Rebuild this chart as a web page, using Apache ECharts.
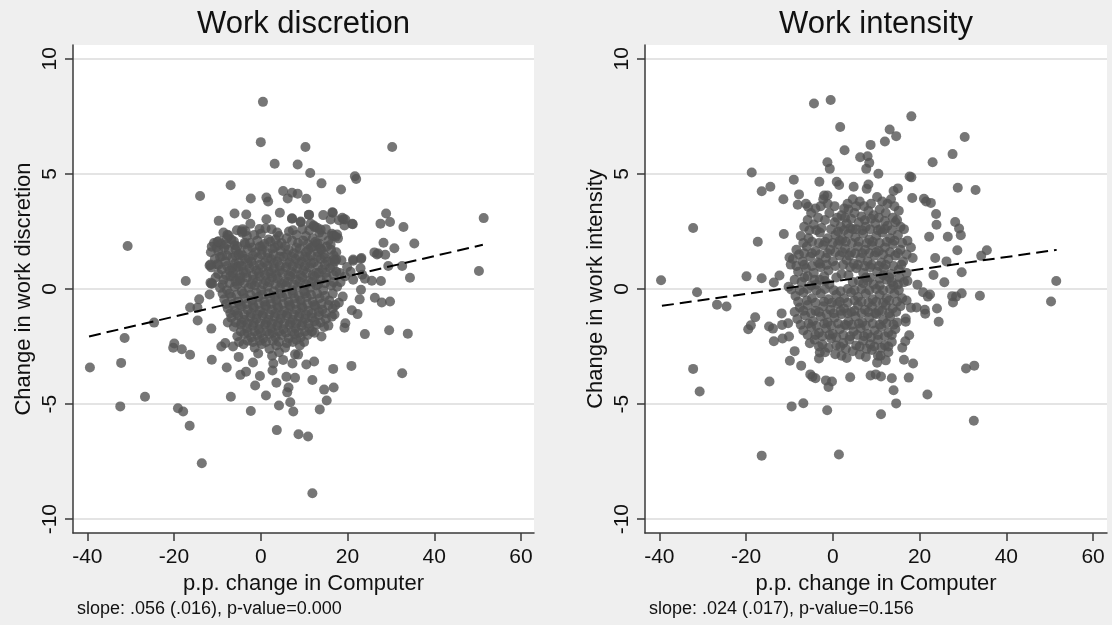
<!DOCTYPE html>
<html>
<head>
<meta charset="utf-8">
<script src="https://cdn.jsdelivr.net/npm/echarts@6/dist/echarts.min.js"></script>
<style>
html,body{margin:0;padding:0;background:#efefef;}
#chart{width:1112px;height:625px;}
</style>
</head>
<body>
<div id="chart"></div>
<script>
// ---------- DATA ----------
const panelTitles = ['Work discretion', 'Work intensity'];
const yAxisTitles = ['Change in work discretion', 'Change in work intensity'];
const xAxisTitle = 'p.p. change in Computer';
const slopeNotes = ['slope: .056 (.016), p-value=0.000', 'slope: .024 (.017), p-value=0.156'];
const xTicks = [-40, -20, 0, 20, 40, 60];
const yTicks = [-10, -5, 0, 5, 10];

// fitted (dashed) lines: endpoints
const fitDiscretion = [[-39.6, -2.06], [51.2, 1.92]];
const fitIntensity = [[-39.4, -0.73], [51.6, 1.70]];

// Work discretion: scattered points
const discretionOuter = [
[0.5,8.13],[0,6.38],[10.3,6.17],[30.3,6.17],[3.2,5.44],[8.5,5.41],[11.4,5.04],[21.7,4.9],[22,4.78],[14,4.59],
[-6.95,4.51],[-14,4.04],[18.5,4.32],[5.15,4.26],[7.2,4.18],[8.5,4.14],[10.5,3.92],[-2.3,3.93],[1.3,3.97],[1.7,3.8],
[51.4,3.08],[28.9,3.28],[29.8,2.91],[27.6,2.84],[32.9,2.69],[35.4,1.98],[28.3,2.01],[30.8,1.77],[34.4,0.49],[50.3,0.78],
[32.6,1.0],[29.4,1.0],[28.7,1.49],[26.2,1.59],[27.1,1.54],[-30.7,1.87],[-17.3,0.35],[-24.6,-1.46],[-31.4,-2.13],[-39.4,-3.41],
[-32.2,-3.21],[-32.4,-5.1],[-26.7,-4.68],[-19.95,-2.37],[-20.2,-2.55],[-18.2,-2.62],[-16.3,-2.86],[-19.1,-5.18],[-17.9,-5.32],[-16.4,-5.94],
[-13.6,-7.57],[11.9,-8.87],[3.7,-6.13],[8.7,-6.31],[10.9,-6.41],[-2.3,-5.3],[-6.9,-4.68],[1.2,-4.63],[-1.3,-4.19],[-0.2,-3.78],
[4.2,-5.06],[6.8,-4.92],[7.5,-5.32],[13.6,-5.23],[15.2,-4.84],[14.6,-4.37],[16.8,-4.28],[16.7,-3.47],[20.9,-3.34],[32.6,-3.66],
[29.6,-1.79],[33.9,-1.94],[24,-1.96],[19.5,-1.49],[11.9,-3.95],[12.3,-3.15],[10.5,-3.28],[5.9,-3.81],[7.9,-3.86],[3.6,-4.07],
[6.1,-4.49],[6.4,-4.28],[-7.85,-3.41],[-4.7,-3.73],[-3.4,-3.59],[-11.3,-3.07],[-5.1,-2.95],[-1.8,-3.19],[2.9,-3.24],[5.15,-3.08],
[2.7,-3.54],[7.9,-2.84],[7.3,-3.24],[-9.1,-2.5],[-11.4,-1.72],[-14.55,-1.37],[-14.6,-0.81],[-16.3,-0.8],[-14.2,-0.45],[-11.8,-0.24],
[-11.2,0.24],[-9.7,2.96],[-6.05,3.28],[-3.35,3.24],[-2.4,2.83],[-4.4,2.51],[-3.7,2.01],[-7.7,2.36],[-11.3,1.84],[-10,2.05],
[-11.8,1.02],[-10.1,1.07],[1.3,3.03],[4.4,3.31],[7.2,3.07],[9.2,2.93],[11.1,3.22],[14.4,3.21],[16.6,3.31],[19.1,3.03],
[21.2,2.81],[19.3,2.76],[17.3,2.27],[16.4,2.32],[17.4,1.28],[21.3,1.23],[23.1,1.3],[20.7,0.75],[23.4,0.62],[21.3,0.4],
[25.6,0.36],[27.7,0.35],[24,0.45],[23.1,-0.03],[26.3,-0.38],[27.9,-0.59],[29.8,-0.54],[22.8,-0.45],[18.9,-0.33],[21,-0.92],
[22.3,-1.09],[19.3,-1.68],[15.6,-1.59],[14,-2.06],[17,-1.11],[-11.4,0.23],[-11.4,0.94],
[-0.3,2.61],[1.1,2.64],[-4.3,2.44],[-3.5,2.51],[-7.4,2.32],[-9.7,2.07],[-6.2,2.07],[-3.7,1.93],[-8.1,1.93],[-5.8,1.71],
[1.8,2.15],[3.4,2.15],[0.3,1.86],[-8.9,1.42],[-5.1,1.5],[-2.8,1.35],[-11.6,1.06],[-6.6,0.92],[-5.1,0.99],
[-11.6,0.27],[-7.0,0.55],[-5.8,0.34],[-4.7,0.48],[6.2,3.93],[7.2,3.05],[9.2,2.9],[11.1,3.23],[16.5,3.33],[18.8,3.09],
[19.5,3.02],[21.1,2.83],[16.1,3.02],[18.0,2.99],[11.5,2.84],[12.2,2.76],[13.0,2.66],[13.8,2.58],[16.8,2.32],[17.6,2.37],
[13.0,1.97],[13.8,1.75],[16.1,1.93],[16.8,1.28],[21.3,1.28],[23.2,1.35],[26.8,1.5],[17.1,1.2],[19.9,0.96],[23.0,0.9]
];
// Work discretion: dense central cluster
const discretionCore = [
[-8.6,2.45],[-5.5,2.55],[-4.2,2.6],[-1.5,2.35],[2.5,2.6],[3.8,2.45],[6.5,2.5],[8.2,2.35],[9.6,2.6],[11.2,2.55],[12.4,2.7],[13.5,2.45],[15.0,2.6],[14.2,2.3],
[-10.8,2.0],[-9.2,1.95],[-6.8,2.15],[-6.0,1.9],[-2.5,2.0],[-0.8,2.1],[0.8,1.95],[2.2,2.05],[4.8,2.0],[6.0,2.2],[7.2,2.1],[8.6,2.0],[9.8,2.1],[10.8,1.95],[12.6,2.05],[13.6,1.95],[15.6,2.1],[17.8,2.2],
[-11.5,1.6],[-9.8,1.65],[-7.4,1.7],[-4.6,1.55],[-3.0,1.75],[-1.2,1.6],[0.3,1.7],[1.6,1.55],[3.2,1.8],[4.6,1.65],[6.4,1.7],[7.6,1.55],[9.0,1.75],[10.4,1.6],[11.6,1.8],[13.2,1.6],[14.6,1.5],[16.2,1.7],
[-10.6,1.3],[-8.2,1.2],[-6.6,1.35],[-5.0,1.15],[-3.6,1.3],[-2.2,1.2],[-0.6,1.35],[0.9,1.15],[2.4,1.3],[3.8,1.2],[5.2,1.4],[6.6,1.15],[8.0,1.3],[9.4,1.2],[10.8,1.35],[12.2,1.15],[13.8,1.3],[15.4,1.2],[18.6,1.25],
[-9.0,0.85],[-7.2,0.8],[-5.6,0.95],[-4.0,0.75],[-2.6,0.9],[-1.0,0.8],[0.4,0.95],[1.8,0.75],[3.0,0.9],[4.4,0.8],[5.8,0.95],[7.0,0.75],[8.4,0.9],[9.8,0.8],[11.2,0.95],[12.8,0.7],[14.2,0.85],[16.0,0.9],[17.4,0.75],
[-10.4,0.5],[-8.6,0.4],[-6.4,0.55],[-4.8,0.35],[-3.2,0.5],[-1.8,0.4],[-0.2,0.55],[1.2,0.35],[2.6,0.5],[3.9,0.45],[5.4,0.3],[6.8,0.55],[8.2,0.4],[9.6,0.5],[11.0,0.35],[12.4,0.55],[13.8,0.4],[15.2,0.5],[16.8,0.3],[19.4,0.55],
[-9.4,0.05],[-7.8,-0.05],[-6.0,0.1],[-4.4,-0.1],[-2.8,0.05],[-1.4,0.15],[0.1,-0.05],[1.6,0.1],[3.0,-0.1],[4.4,0.05],[5.8,0.15],[7.2,-0.05],[8.6,0.1],[10.0,-0.1],[11.4,0.05],[12.8,0.15],[14.4,-0.05],[17.6,0.1],
[-8.4,-0.45],[-6.8,-0.35],[-5.2,-0.55],[-3.6,-0.4],[-2.0,-0.5],[-0.6,-0.35],[0.8,-0.55],[2.2,-0.4],[3.6,-0.5],[5.0,-0.35],[6.4,-0.55],[7.8,-0.4],[9.2,-0.5],[10.6,-0.35],[12.0,-0.55],[13.6,-0.4],[15.8,-0.5],[18.0,-0.6],
[-7.6,-0.85],[-6.0,-0.95],[-4.4,-0.75],[-3.0,-0.9],[-1.6,-0.8],[-0.2,-0.95],[1.2,-0.75],[2.6,-0.9],[4.0,-0.8],[5.4,-0.95],[6.8,-0.75],[8.2,-0.9],[9.6,-0.8],[11.0,-0.95],[12.6,-0.75],[14.2,-0.9],[16.6,-0.85],
[-6.8,-1.25],[-5.2,-1.15],[-3.8,-1.35],[-2.4,-1.2],[-1.0,-1.3],[0.4,-1.15],[1.8,-1.35],[3.2,-1.2],[4.6,-1.3],[6.0,-1.15],[7.4,-1.35],[8.8,-1.2],[10.2,-1.3],[11.8,-1.25],[13.4,-1.15],[15.0,-1.3],
[-6.2,-1.65],[-4.6,-1.55],[-3.2,-1.7],[-1.8,-1.6],[-0.4,-1.75],[1.0,-1.55],[2.4,-1.7],[3.8,-1.6],[5.2,-1.75],[6.6,-1.55],[8.0,-1.7],[9.4,-1.6],[11.2,-1.7],[12.8,-1.55],[14.6,-1.65],
[-5.4,-2.05],[-3.8,-1.95],[-2.2,-2.1],[-0.8,-2.0],[0.6,-2.15],[2.0,-1.95],[3.4,-2.1],[4.8,-2.0],[6.4,-2.15],[7.8,-1.95],[9.2,-2.1],[10.8,-2.0],[12.4,-1.9],
[-8.2,-2.35],[-6.4,-2.5],[-4.0,-2.4],[-1.4,-2.55],[0.2,-2.4],[2.0,-2.6],[3.6,-2.45],[5.6,-2.55],[7.4,-2.3],[9.0,-2.45],
[-0.6,-2.8],[2.6,-2.9],[4.2,-2.75],[8.6,-2.85]
];
const discretionCore2 = [
[-7.8,2.2],[-3.2,2.3],[0.0,2.4],[4.2,2.3],[7.4,2.55],[10.4,2.3],[12.0,2.2],[16.4,2.4],
[-10.2,1.8],[-8.4,1.8],[-5.4,1.85],[-2.0,1.8],[-0.2,1.85],[2.6,1.75],[4.0,1.9],[5.6,1.85],[8.2,1.8],[11.0,1.7],[12.2,1.85],[14.0,1.7],[15.2,1.85],[17.4,1.6],
[-9.4,1.4],[-7.8,1.45],[-5.8,1.45],[-4.2,1.45],[-1.8,1.45],[0.2,1.5],[1.6,1.35],[3.0,1.5],[4.4,1.4],[6.0,1.5],[7.2,1.4],[8.8,1.45],[10.2,1.4],[11.6,1.45],[13.0,1.4],[14.8,1.35],[16.8,1.45],
[-9.8,1.05],[-7.8,1.0],[-6.0,1.1],[-4.4,1.0],[-3.0,1.1],[-1.6,1.0],[-0.2,1.05],[1.6,1.0],[3.0,1.1],[4.4,1.0],[6.0,1.1],[7.4,1.0],[8.8,1.1],[10.2,1.0],[11.6,1.1],[13.2,1.0],[14.8,1.05],[16.6,1.0],
[-9.8,0.65],[-8.0,0.6],[-6.4,0.7],[-4.8,0.6],[-3.4,0.7],[-1.8,0.6],[-0.4,0.7],[1.0,0.6],[2.4,0.7],[3.6,0.6],[5.0,0.7],[6.4,0.6],[7.8,0.65],[9.2,0.6],[10.6,0.7],[12.0,0.6],[13.4,0.7],[15.0,0.7],[16.8,0.6],[18.2,0.7],
[-8.8,0.2],[-7.2,0.25],[-5.4,0.2],[-3.8,0.25],[-2.2,0.2],[-0.8,0.3],[0.6,0.2],[2.0,0.3],[3.4,0.2],[4.8,0.25],[6.2,0.3],[7.6,0.2],[9.0,0.3],[10.4,0.2],[11.8,0.3],[13.2,0.2],[14.8,0.25],[16.2,0.15],[18.4,0.3],
[-8.8,-0.2],[-7.2,-0.2],[-5.6,-0.25],[-4.0,-0.2],[-2.4,-0.25],[-1.0,-0.15],[0.4,-0.25],[1.8,-0.2],[3.2,-0.3],[4.6,-0.2],[6.0,-0.25],[7.4,-0.2],[8.8,-0.3],[10.2,-0.2],[11.6,-0.25],[13.0,-0.2],[14.8,-0.3],[16.6,-0.2],
[-8.0,-0.65],[-6.4,-0.65],[-4.8,-0.7],[-3.2,-0.65],[-1.8,-0.7],[-0.4,-0.65],[1.0,-0.7],[2.4,-0.65],[3.8,-0.7],[5.2,-0.65],[6.6,-0.7],[8.0,-0.65],[9.4,-0.7],[10.8,-0.65],[12.4,-0.7],[14.0,-0.65],[15.6,-0.7],[17.2,-0.7],
[-7.0,-1.05],[-5.4,-1.05],[-3.8,-1.1],[-2.2,-1.05],[-0.8,-1.1],[0.6,-1.05],[2.0,-1.1],[3.4,-1.05],[4.8,-1.1],[6.2,-1.05],[7.6,-1.1],[9.0,-1.05],[10.4,-1.1],[11.8,-1.05],[13.4,-1.0],[15.0,-1.05],[16.4,-1.2],
[-7.6,-1.45],[-5.8,-1.45],[-4.4,-1.45],[-3.0,-1.5],[-1.6,-1.45],[-0.2,-1.5],[1.2,-1.45],[2.6,-1.5],[4.0,-1.45],[5.4,-1.5],[6.8,-1.45],[8.2,-1.5],[9.6,-1.45],[11.0,-1.5],[12.4,-1.4],[13.8,-1.45],
[-4.6,-1.85],[-3.0,-1.9],[-1.4,-1.85],[0.0,-1.9],[1.4,-1.85],[2.8,-1.9],[4.2,-1.85],[5.8,-1.9],[7.2,-1.85],[8.8,-1.9],[10.2,-1.85],[11.8,-1.85],
[-5.0,-2.3],[-3.0,-2.25],[-1.8,-2.3],[-0.2,-2.25],[1.2,-2.3],[2.8,-2.25],[4.2,-2.3],[6.0,-2.35],[8.2,-2.2],[10.0,-2.3]
];

// Work intensity: scattered points
const intensityOuter = [
[-0.5,8.21],[-4.35,8.06],[18.1,7.5],[1.7,7.04],[13.1,6.93],[14.6,6.64],[12.0,6.41],[30.4,6.6],[2.7,6.03],[8.7,6.26],
[27.6,5.86],[6.3,5.72],[8.0,5.77],[8.4,5.48],[23.0,5.51],[-1.25,5.51],[-0.7,5.22],[7.7,5.22],[10.5,5.01],[-18.7,5.06],
[17.7,4.89],[18.1,4.85],[-9,4.75],[-3.1,4.66],[0.9,4.66],[1.45,4.52],[4.8,4.44],[8.2,4.54],[7.8,4.35],[-14.4,4.44],
[-16.4,4.25],[28.8,4.4],[32.9,4.3],[15,4.37],[14,4.26],[-11.4,3.9],[-7.8,4.11],[-8.1,3.66],[-5.7,3.57],[-2,4.06],
[-1.25,4.06],[18.3,3.95],[21,3.92],[21.5,3.8],[22.6,3.74],[23.8,3.26],[23.9,2.79],[28.2,2.91],[29.1,2.63],[29.5,2.34],
[26.5,2.27],[22.2,2.27],[28.7,1.68],[35.5,1.68],[34.2,1.44],[23.6,1.35],[26.2,1.2],[29.7,0.73],[23.2,0.61],[25.7,0.29],
[19.5,0.19],[51.5,0.35],[50.3,-0.54],[33.9,-0.29],[29.7,-0.19],[27.5,-0.31],[28.4,-0.33],[27.7,-0.59],[20.8,-0.14],[22.4,-0.24],
[21.9,-0.33],[24,-0.85],[19.3,-0.8],[21.2,-0.9],[21.3,-1.07],[24.4,-1.42],[18,-0.81],[16.8,-1.28],[16.8,-1.42],[17.6,-2.01],
[16.7,-2.27],[16.0,-2.55],[16.4,-3.07],[18.5,-3.24],[17.5,-3.85],[13.6,-3.88],[14,-4.4],[14.6,-4.97],[11.1,-5.44],[21.8,-4.58],
[30.7,-3.45],[32.6,-3.33],[32.5,-5.72],[8.7,-3.76],[9.9,-3.71],[11.1,-3.8],[4.0,-3.83],[1.4,-7.19],[-16.4,-7.24],[-1.3,-5.27],
[-6.8,-4.96],[-9.5,-5.1],[-14.6,-4.02],[-1,-4.26],[-0.2,-4.02],[-1.6,-3.97],[-5.2,-3.71],[-4,-3.88],[-4.7,-3.81],[-7.3,-3.33],
[-9.9,-3.12],[-8.8,-2.7],[-5.3,-2.36],[-3.2,-3.02],[-3,-2.76],[0.55,-2.83],[1.7,-2.5],[-13.6,-2.27],[-11.6,-2.15],[-10.1,-2.06],
[-14.7,-1.63],[-13.8,-1.72],[-11.7,-1.56],[-10.3,-1.49],[-11.8,-1.06],[-19.5,-1.75],[-18.9,-1.58],[-17.9,-1.23],[-32.2,-3.47],[-30.7,-4.45],
[-32.2,2.65],[-17.3,2.05],[-11.3,2.39],[-12.3,0.59],[-19.9,0.55],[-16.4,0.47],[-13.6,0.28],[-39.6,0.38],[-31.3,-0.14],[-26.7,-0.68],
[-24.5,-0.76],[-10,1.37],[-9.7,1.06],[-10.2,0.1],[-9.6,-0.02]
];
// Work intensity: dense central cluster
const intensityCore = [
[-6.2,3.7],[-2.2,3.9],[-1.2,3.7],[3.4,3.7],[4.6,3.9],[6.2,3.8],[7.2,3.6],[10.2,4.0],[11.4,3.8],[12.6,3.7],[13.4,3.9],
[-5.0,3.3],[-3.4,3.1],[-0.8,3.3],[2.0,3.2],[3.6,3.45],[5.0,3.3],[6.6,3.15],[8.2,3.4],[9.4,3.2],[12.2,3.3],[13.8,3.1],[15.2,3.4],
[-6.6,2.7],[-4.4,2.8],[-2.6,2.65],[0.4,2.9],[1.8,2.7],[3.2,2.85],[4.6,2.6],[6.0,2.9],[7.6,2.7],[9.8,2.85],[11.0,2.6],[12.6,2.75],[14.4,2.9],[16.4,2.6],
[-7.4,2.3],[-5.6,2.2],[-3.0,2.45],[-1.2,2.2],[0.6,2.35],[2.2,2.15],[3.6,2.4],[5.2,2.25],[7.0,2.4],[8.4,2.15],[10.0,2.3],[11.4,2.45],[13.2,2.2],[15.0,2.35],[17.2,2.1],
[-8.4,1.7],[-6.0,1.85],[-4.0,1.65],[-2.2,1.9],[-0.6,1.7],[1.2,1.95],[2.8,1.75],[4.2,1.6],[5.8,1.85],[7.4,1.7],[9.0,1.9],[10.6,1.65],[12.0,1.8],[13.8,1.95],[15.6,1.7],[18.0,1.8],
[-9.2,1.3],[-7.0,1.2],[-5.2,1.4],[-3.4,1.15],[-1.6,1.35],[0.0,1.2],[1.6,1.45],[3.2,1.25],[4.8,1.1],[6.4,1.35],[8.0,1.2],[9.6,1.45],[11.2,1.15],[12.8,1.3],[14.4,1.45],[16.2,1.2],[18.4,1.35],
[-8.0,0.75],[-6.2,0.9],[-4.4,0.7],[-2.8,0.95],[-1.0,0.8],[2.0,0.65],[5.4,0.9],[7.0,0.7],[8.6,0.95],[10.2,0.75],[11.8,0.9],[13.4,0.65],[15.2,0.85],[17.0,0.7],
[-7.2,0.3],[-5.0,0.15],[-3.0,0.4],[-0.8,0.2],[6.0,0.35],[9.4,0.2],[12.4,0.4],[14.0,0.15],[16.4,0.3],
[-8.8,0.4],[-5.8,0.55],[-3.8,0.2],[-1.8,0.35],[0.8,0.5],[3.6,0.6],[4.6,0.3],[7.0,0.25],[8.0,0.35],[10.8,0.15],[11.6,0.6],[13.6,0.3],[15.0,0.2],[17.2,0.35],
[-8.6,-0.3],[-6.8,-0.15],[-4.8,-0.4],[-2.8,-0.2],[-1.0,-0.45],[0.8,-0.25],[2.6,-0.4],[4.2,-0.15],[5.8,-0.35],[7.6,-0.2],[9.2,-0.45],[10.8,-0.25],[12.4,-0.4],[14.2,-0.2],[16.0,-0.4],
[-7.6,-0.8],[-5.8,-0.7],[-4.0,-0.95],[-2.2,-0.75],[-0.6,-0.9],[1.0,-0.65],[2.6,-0.85],[4.2,-1.0],[5.8,-0.7],[7.4,-0.9],[9.0,-0.75],[10.6,-0.95],[12.2,-0.7],[13.8,-0.85],[15.6,-0.75],
[-8.2,-1.3],[-6.4,-1.15],[-4.6,-1.4],[-2.8,-1.2],[-1.2,-1.45],[0.4,-1.25],[2.0,-1.1],[3.6,-1.4],[5.2,-1.2],[6.8,-1.45],[8.4,-1.25],[10.0,-1.1],[11.6,-1.35],[13.2,-1.2],[14.8,-1.45],
[-6.8,-1.8],[-5.0,-1.65],[-3.2,-1.9],[-1.6,-1.7],[0.0,-1.95],[1.6,-1.75],[3.2,-1.6],[4.8,-1.85],[6.4,-1.7],[8.0,-1.95],[9.6,-1.8],[11.2,-1.65],[12.8,-1.9],[14.4,-1.75],
[-4.2,-2.2],[-2.4,-2.4],[-0.4,-2.15],[2.4,-2.35],[3.8,-2.2],[5.4,-2.45],[7.0,-2.25],[8.6,-2.4],[10.4,-2.2],[12.0,-2.45],[13.6,-2.3],
[-1.8,-2.75],[2.0,-2.9],[4.6,-2.7],[6.2,-2.85],[9.0,-2.65],[11.0,-2.9],[12.8,-2.75],
[10.2,-3.2],[12.2,-3.1]
];
const intensityCore2 = [
[-4.0,3.5],[-2.8,3.6],[0.4,3.6],[2.6,3.5],[5.4,3.6],[8.8,3.7],[10.8,3.45],[14.2,3.6],
[-5.8,3.0],[-1.8,3.0],[1.0,3.1],[2.8,3.1],[4.2,3.05],[7.4,3.0],[8.8,3.05],[10.6,3.1],[12.0,2.95],[14.8,3.0],
[-5.4,2.55],[-3.8,2.55],[-0.4,2.6],[1.2,2.5],[2.6,2.55],[4.0,2.65],[5.4,2.6],[6.8,2.55],[8.6,2.6],[10.4,2.55],[12.0,2.6],[13.6,2.55],[15.6,2.7],
[-6.8,2.0],[-4.8,2.05],[-3.2,2.0],[-1.8,2.05],[0.0,2.0],[1.6,2.1],[3.0,2.05],[4.4,2.0],[6.0,2.05],[7.8,2.0],[9.2,2.05],[10.8,2.0],[12.4,2.05],[14.2,2.1],[16.0,2.0],
[-7.8,1.5],[-6.6,1.55],[-4.8,1.55],[-3.0,1.5],[-1.2,1.55],[0.6,1.6],[2.2,1.6],[3.8,1.45],[5.2,1.55],[6.8,1.55],[8.4,1.55],[10.0,1.6],[11.6,1.5],[13.2,1.6],[15.0,1.55],[17.0,1.5],
[-8.4,1.0],[-6.6,1.05],[-4.8,1.0],[-3.0,1.1],[-1.4,1.05],[0.6,1.0],[2.4,1.05],[4.0,0.95],[5.8,1.05],[7.4,1.0],[9.0,1.05],[10.6,1.0],[12.2,1.05],[14.0,1.0],[15.8,1.05],
[-6.6,0.5],[-4.2,0.4],[-2.0,0.55],[7.6,0.5],[8.6,0.5],[10.8,0.45],[13.0,0.5],[15.4,0.5],
[-7.6,-0.05],[-5.8,0.0],[-3.8,-0.05],[-1.8,0.0],[0.2,-0.05],[1.8,-0.1],[3.4,0.0],[5.0,-0.05],[6.6,0.0],[8.4,-0.05],[10.0,0.0],[11.6,-0.05],[13.2,0.0],[15.2,-0.05],
[-8.0,-0.55],[-6.0,-0.5],[-4.0,-0.6],[-2.0,-0.55],[-0.2,-0.6],[1.6,-0.55],[3.4,-0.6],[5.0,-0.5],[6.6,-0.55],[8.2,-0.6],[10.0,-0.55],[11.6,-0.6],[13.0,-0.5],[14.8,-0.55],[17.0,-0.5],
[-8.8,-1.0],[-6.8,-0.95],[-5.0,-1.05],[-3.2,-1.0],[-1.4,-1.1],[0.2,-1.05],[1.8,-0.95],[3.4,-1.05],[5.0,-0.95],[6.6,-1.05],[8.2,-1.0],[9.8,-1.05],[11.4,-0.95],[13.0,-1.05],[14.6,-1.0],
[-7.4,-1.55],[-5.6,-1.5],[-3.8,-1.6],[-2.0,-1.5],[-0.4,-1.6],[1.2,-1.5],[2.8,-1.55],[4.4,-1.55],[6.0,-1.5],[7.6,-1.6],[9.2,-1.5],[10.8,-1.55],[12.4,-1.5],[14.0,-1.55],
[-5.8,-2.0],[-4.0,-2.0],[-2.4,-2.05],[-0.8,-2.0],[0.8,-2.1],[2.4,-2.0],[4.0,-2.05],[5.6,-2.0],[7.2,-2.05],[8.8,-2.1],[10.4,-2.0],[12.0,-2.05],[13.6,-2.0],
[-3.2,-2.5],[-1.0,-2.55],[0.8,-2.45],[3.0,-2.6],[6.2,-2.5],[7.8,-2.6],[9.6,-2.5],[11.2,-2.55],[12.8,-2.5],
[3.2,-3.0],[7.6,-2.95],[10.4,-2.9]
];

// ---------- CHART ----------
const FONT = "'Liberation Sans', Arial, Helvetica, sans-serif";
const MARK = '#545454';
const SYM = 10;
const grids = [
  {left: 73, top: 45, width: 461, height: 488},
  {left: 645, top: 45, width: 462, height: 488}
];
const xRange = [[-43.3, 63.0], [-43.3, 63.2]];

function xAxisFor(i) {
  return {
    type: 'value', gridIndex: i, min: xRange[i][0], max: xRange[i][1],
    position: 'bottom',
    name: xAxisTitle, nameLocation: 'middle', nameGap: 37,
    nameTextStyle: {fontFamily: FONT, fontSize: 22, color: '#111'},
    axisLine: {show: true, onZero: false, lineStyle: {color: '#3a3a3a', width: 1.5}},
    axisTick: {show: true, length: 8, customValues: xTicks, lineStyle: {color: '#3a3a3a', width: 1.5}},
    axisLabel: {show: true, customValues: xTicks, margin: 14, fontFamily: FONT, fontSize: 21, color: '#111'},
    splitLine: {show: false}
  };
}
function yAxisFor(i) {
  return {
    type: 'value', gridIndex: i, min: -10.6, max: 10.6,
    position: 'left',
    name: yAxisTitles[i], nameLocation: 'middle', nameGap: 38, nameRotate: 90,
    nameTextStyle: {fontFamily: FONT, fontSize: 22, color: '#111'},
    axisLine: {show: true, onZero: false, lineStyle: {color: '#3a3a3a', width: 1.5}},
    axisTick: {show: true, length: 8, customValues: yTicks, lineStyle: {color: '#3a3a3a', width: 1.5}},
    axisLabel: {show: true, customValues: yTicks, rotate: 90, margin: 12, fontFamily: FONT, fontSize: 21, color: '#111'},
    splitLine: {show: true, lineStyle: {color: '#e4e4e4', width: 2}}
  };
}

const chart = echarts.init(document.getElementById('chart'), null, {renderer: 'canvas'});
const option = {
  animation: false,
  backgroundColor: '#efefef',
  grid: grids.map(g => Object.assign({show: true, backgroundColor: '#ffffff', borderWidth: 0}, g)),
  xAxis: [xAxisFor(0), xAxisFor(1)],
  yAxis: [yAxisFor(0), yAxisFor(1)],
  series: [
    {type: 'scatter', xAxisIndex: 0, yAxisIndex: 0, data: discretionCore.concat(discretionCore2, discretionOuter),
     symbol: 'circle', symbolSize: SYM, itemStyle: {color: MARK}, silent: true, large: false},
    {type: 'line', xAxisIndex: 0, yAxisIndex: 0, data: fitDiscretion, showSymbol: false, symbol: 'none',
     lineStyle: {color: '#000', width: 2, type: [12, 6]}, z: 5, silent: true},
    {type: 'scatter', xAxisIndex: 1, yAxisIndex: 1, data: intensityCore.concat(intensityCore2, intensityOuter),
     symbol: 'circle', symbolSize: SYM, itemStyle: {color: MARK}, silent: true, large: false},
    {type: 'line', xAxisIndex: 1, yAxisIndex: 1, data: fitIntensity, showSymbol: false, symbol: 'none',
     lineStyle: {color: '#000', width: 2, type: [12, 6]}, z: 5, silent: true}
  ],
  graphic: [
    {type: 'text', x: 303.5, y: 24, style: {text: panelTitles[0], font: '31px ' + FONT, fill: '#111', align: 'center', verticalAlign: 'middle'}},
    {type: 'text', x: 876, y: 24, style: {text: panelTitles[1], font: '31px ' + FONT, fill: '#111', align: 'center', verticalAlign: 'middle'}},
    {type: 'text', x: 77, y: 609, style: {text: slopeNotes[0], font: '18px ' + FONT, fill: '#111', align: 'left', verticalAlign: 'middle'}},
    {type: 'text', x: 649, y: 609, style: {text: slopeNotes[1], font: '18px ' + FONT, fill: '#111', align: 'left', verticalAlign: 'middle'}}
  ]
};
chart.setOption(option);
</script>
</body>
</html>
